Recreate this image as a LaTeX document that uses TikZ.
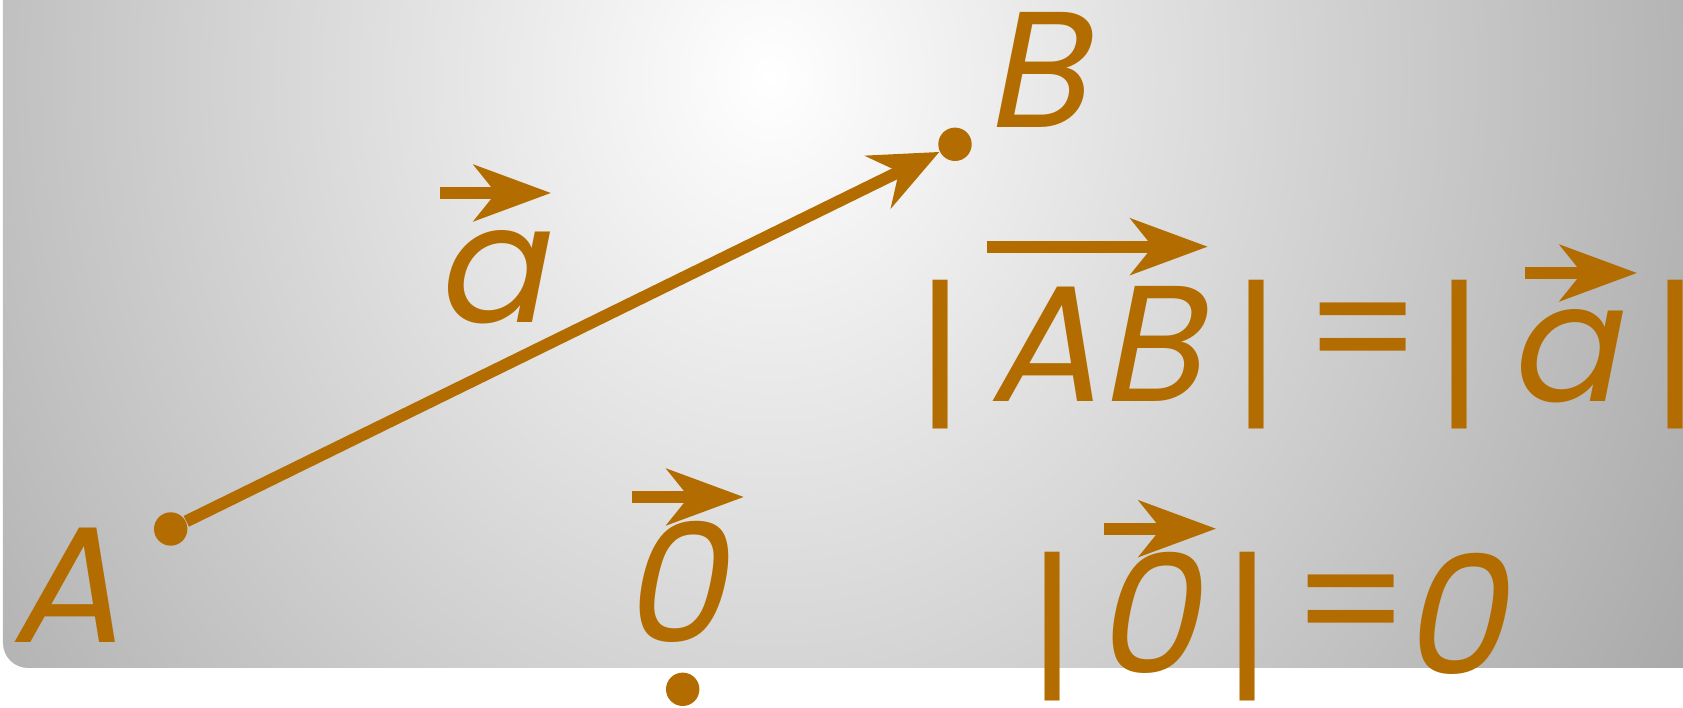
\documentclass[tikz,border=0pt]{standalone}
\usepackage{fontspec}
\newfontfamily\geofont[FakeSlant=0.2]{Poppins}
\newfontfamily\geoupright{Poppins}
\usepackage{xcolor}
\usetikzlibrary{arrows.meta}
\definecolor{vecbrown}{RGB}{179,108,0}
\tikzset{
  txt/.style={text=vecbrown, inner sep=0, font=\geofont\fontsize{47}{50}\selectfont},
  sym/.style={text=vecbrown, inner sep=0, font=\geoupright\fontsize{47}{50}\selectfont},
  pt/.style={circle, fill=vecbrown, inner sep=0, minimum size=0.334cm},
  overarrow/.style={draw=vecbrown, line width=0.12cm, -{Stealth[length=0.77cm, width=0.56cm, inset=0.22cm]}},
}

\begin{document}
\begin{tikzpicture}
\useasboundingbox (0,0) rectangle (16.83,7.08);
% background
\begin{scope}
\clip (0.03,7.08) -- (0.03,0.65) arc[start angle=180, end angle=270, radius=0.25] -- (16.83,0.40) -- (16.83,7.08) -- cycle;
\shade[inner color=white, outer color=black!40] (7.7,6.3) ellipse (12.5 and 14.3);
\end{scope}

% points and the vector AB
\node[pt] (ptA) at (1.707,1.79) {};
\node[pt] (ptB) at (9.55,5.637) {};
\node[pt] (ptO) at (6.827,0.187) {};
\draw[draw=vecbrown, line width=0.12cm, -{Stealth[length=0.68cm, width=0.58cm, inset=0.23cm]}] (ptA) -- (ptB);
\node[txt, anchor=base] (labA) at (0.65,0.653) {A};
\node[txt, anchor=base] (labB) at (10.35,5.807) {B};

% vector a
\node[txt, anchor=base] (veca) at (4.89,3.85) {a};
\draw[overarrow] (4.40,5.15) -- (5.51,5.15);

% |AB| = |a|
\node[sym] (bar1) at (9.41,3.53) {|};
\node[txt, anchor=base] (AB) at (10.94,3.06) {AB};
\draw[overarrow] (9.867,4.613) -- (12.077,4.613);
\node[sym] (bar2) at (12.57,3.53) {|};
\node[sym] (eq1) at (13.63,3.63) {=};
\node[sym] (bar3) at (14.60,3.53) {|};
\node[txt, anchor=base] (veca2) at (15.62,3.06) {a};
\draw[overarrow] (15.25,4.35) -- (16.37,4.35);
\node[sym] (bar4) at (16.755,3.53) {|};

% zero vector
\node[txt, anchor=base] (zero) at (6.72,0.65) {0};
\draw[overarrow] (6.323,2.11) -- (7.438,2.11);

% |0| = 0
\node[sym] (bar5) at (10.53,0.813) {|};
\node[txt, anchor=base] (zero2) at (11.45,0.34) {0};
\draw[overarrow] (11.043,1.793) -- (12.16,1.793);
\node[sym] (bar6) at (12.48,0.813) {|};
\node[sym] (eq2) at (13.51,0.91) {=};
\node[txt, anchor=base] (zero3) at (14.52,0.33) {0};
\end{tikzpicture}
\end{document}
